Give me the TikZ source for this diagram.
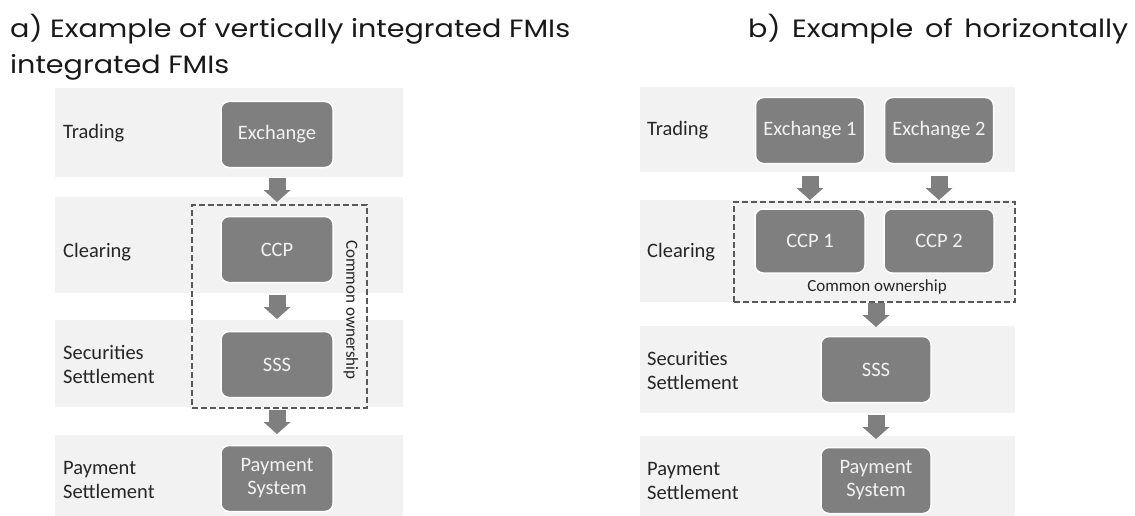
\documentclass[tikz,border=0pt]{standalone}
\usepackage{fontspec}
\setmainfont{Carlito}
\newfontfamily\titlefont{Poppins}
\usepackage{tikz}
\usetikzlibrary{positioning,arrows.meta}
\definecolor{bandgray}{HTML}{F2F2F2}
\definecolor{boxgray}{HTML}{7F7F7F}
\definecolor{dashgray}{HTML}{595959}
\definecolor{labelgray}{HTML}{262626}
\tikzstyle{band}=[rectangle, fill=bandgray, inner sep=0pt, outer sep=0pt]
\tikzstyle{stage}=[anchor=west, text=labelgray, align=left, inner sep=0pt,
font=\fontsize{20.5}{24}\selectfont]
\tikzstyle{fmi}=[rectangle, draw=white, line width=1.5pt, rounded corners=8pt, fill=boxgray,
text=bandgray, align=center, minimum width=112pt, minimum height=66pt, inner sep=0pt,
outer sep=0pt, font=\fontsize{20.5}{23}\selectfont]
\tikzstyle{owner}=[rectangle, draw=dashgray, line width=1.5pt, dash pattern=on 6pt off 3pt,
inner sep=0pt, outer sep=0pt]
\tikzstyle{ownlabel}=[text=labelgray, inner sep=0pt, font=\fontsize{17}{20}\selectfont]
\tikzstyle{flow}=[draw=boxgray, line width=17pt, -{Triangle[width=27pt,length=12pt,line width=0pt]}]
\tikzstyle{title}=[anchor=base west, inner sep=0pt, text=black!90, font=\titlefont\fontsize{25}{36}\selectfont]

\begin{document}
\begin{tikzpicture}[x=1pt,y=-1pt]
            \useasboundingbox (0,0) rectangle (1135,516);
            % titles
            \node (ta)[title] at (10,38) {\scalebox{1.145}[1]{a) Example of vertically integrated FMIs}};
            \node (ta2)[title] at (10,74) {\scalebox{1.145}[1]{integrated FMIs}};
            \node (tb)[title] at (748,38) {\scalebox{1.145}[1]{\makebox[332pt][s]{b) Example of horizontally}}};

            % a) vertical integration
            \node (ltrade)[band, minimum width=348pt, minimum height=89pt] at (229,132.5) {};
            \node (lclear)[band, minimum width=348pt, minimum height=96pt] at (229,245) {};
            \node (lsec)[band, minimum width=348pt, minimum height=87pt] at (229,363.5) {};
            \node (lpay)[band, minimum width=348pt, minimum height=81pt] at (229,475.5) {};
            \node (lown)[owner, minimum width=175pt, minimum height=203pt] at (279.5,306.5) {};
            \node (lownlabel)[ownlabel, rotate=-90] at (351,310) {Common ownership};

            \node (ltradelabel)[stage] at (63,133) {Trading};
            \node (lclearlabel)[stage] at (63,252) {Clearing};
            \node (lseclabel)[stage] at (63,364) {Securities\\Settlement};
            \node (lpaylabel)[stage] at (63,479.5) {Payment\\Settlement};

            \node (lexch)[fmi] at (277,134.5) {Exchange};
            \node (lccp)[fmi] at (277,249.5) {CCP};
            \node (lsss)[fmi] at (277,364.5) {SSS};
            \node (lps)[fmi] at (277,478.5) {Payment\\System};

            \draw [flow, shorten <=10.5pt, shorten >=14.5pt] (lexch) -- (lccp);
            \draw [flow, shorten <=12.5pt, shorten >=12.5pt] (lccp) -- (lsss);
            \draw [flow, shorten <=12.5pt, shorten >=11.5pt] (lsss) -- (lps);

            % b) horizontal integration
            \node (rtrade)[band, minimum width=375pt, minimum height=85pt] at (827.5,129.5) {};
            \node (rclear)[band, minimum width=375pt, minimum height=102pt] at (827.5,251) {};
            \node (rsec)[band, minimum width=375pt, minimum height=87pt] at (827.5,369.5) {};
            \node (rpay)[band, minimum width=375pt, minimum height=80pt] at (827.5,476) {};
            \node (rown)[owner, minimum width=281pt, minimum height=100pt] at (874.5,252) {};
            \node (rownlabel)[ownlabel] at (877,287) {Common ownership};

            \node (rtradelabel)[stage] at (647,130) {Trading};
            \node (rclearlabel)[stage] at (647,252) {Clearing};
            \node (rseclabel)[stage] at (647,370.5) {Securities\\Settlement};
            \node (rpaylabel)[stage] at (647,480.5) {Payment\\Settlement};

            \node (rexch1)[fmi, minimum width=109pt] at (810,130.5) {Exchange 1};
            \node (rexch2)[fmi, minimum width=109pt] at (939,130.5) {Exchange 2};
            \node (rccp1)[fmi, minimum width=110pt, minimum height=64pt] at (810,241) {CCP 1};
            \node (rccp2)[fmi, minimum width=110pt, minimum height=64pt] at (939,241) {CCP 2};
            \node (rsss)[fmi, minimum width=110pt] at (876,369.5) {SSS};
            \node (rps)[fmi, minimum width=110pt] at (876,480.5) {Payment\\System};

            \draw [flow, shorten <=12.5pt, shorten >=9pt] (rexch1) -- (rccp1);
            \draw [flow, shorten <=12.5pt, shorten >=9pt] (rexch2) -- (rccp2);
            \draw [flow, shorten <=1pt, shorten >=9.5pt] (rown.south -| rsss) -- (rsss.north);
            \draw [flow, shorten <=12.5pt, shorten >=8.5pt] (rsss) -- (rps);
        \end{tikzpicture}
\end{document}
